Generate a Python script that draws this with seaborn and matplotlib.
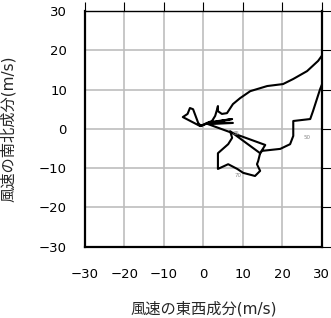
import matplotlib
matplotlib.use("Agg")
import matplotlib.pyplot as plt
import numpy as np
import pandas as pd
import seaborn as sns

# Hodograph: east-west (u) and north-south (v) wind components (m/s)
u = [30.9, 29.1, 26.3, 22.8, 20.2, 16.2, 11.9, 9.3, 7.5, 6.0, 4.7, 3.7, 3.7, 3.5, 3.0, 2.2, 0.9, -0.8,
     -5.2, -4.0, -3.4, -2.6, -1.3, -0.6,
     1.7, 7.3, 2.7, 7.5, 1.2,
     15.7, 14.4,
     6.8, 7.3, 6.3, 3.7, 3.7, 6.3, 8.6, 10.1, 13.1, 14.4, 13.6, 13.9, 14.4, 14.9, 19.5, 22.0, 22.8,
     22.8, 27.1, 27.8, 29.6, 30.9]
v = [19.8, 17.3, 14.7, 12.7, 11.4, 10.9, 9.6, 7.8, 6.3, 4.0, 3.8, 4.5, 5.8, 5.0, 3.3, 2.0, 1.5, 0.7,
     3.0, 3.8, 5.3, 5.0, 1.5, 0.7,
     1.7, 2.5, 1.7, 1.5, 1.2,
     -4.1, -6.2,
     -0.6, -2.3, -3.9, -6.2, -10.2, -9.0, -10.2, -11.2, -12.0, -10.7, -9.0, -8.2, -6.2, -5.6, -5.1, -3.9, -1.8,
     2.0, 2.5, 4.5, 10.1, 13.4]

label_u = [8.3, 26.3, 8.8]
label_v = [-1.1, -2.3, -12.0]
label_text = ["85", "50", "70"]

ticks = [-30, -20, -10, 0, 10, 20, 30]
tick_labels = ["\u221230", "\u221220", "\u221210", "0", "10", "20", "30"]
xlabel = "風速の東西成分(m/s)"
ylabel = "風速の南北成分(m/s)"

df = pd.DataFrame({"u": u, "v": v, "order": np.arange(len(u))})

sns.set_style("white")
plt.rcParams["font.family"] = ["DejaVu Sans", "Noto Sans CJK JP"]

fig = plt.figure(figsize=(3.31, 3.18), dpi=100)
ax = fig.add_axes([0.2568, 0.2242, 0.7150, 0.7412])

sns.lineplot(data=df, x="u", y="v", sort=False, estimator=None,
             color="black", lw=1.5, ax=ax, legend=False)

for lu, lv, lt in zip(label_u, label_v, label_text):
    ax.text(lu, lv, lt, fontsize=4, color="#888888", ha="center", va="center")

ax.set_xlim(-30, 30)
ax.set_ylim(-30, 30)
ax.set_xticks(ticks)
ax.set_xticklabels(tick_labels)
ax.set_yticks(ticks)
ax.set_yticklabels(tick_labels)
ax.grid(True, color="#bdbdbd", lw=1.2)
ax.set_axisbelow(True)

ax.tick_params(axis="both", direction="out", length=6.5, width=0.8, color="black",
               top=True, right=True, labelsize=9.5, labelcolor="black")
ax.tick_params(axis="x", pad=9.0)
ax.tick_params(axis="y", pad=6.5)

for side in ["left", "right", "bottom"]:
    ax.spines[side].set_linewidth(1.6)
    ax.spines[side].set_color("black")
ax.spines["top"].set_linewidth(1.0)
ax.spines["top"].set_color("black")

ax.set_xlabel(xlabel, fontsize=11, va="center")
ax.set_ylabel(ylabel, fontsize=11, va="center")
ax.xaxis.set_label_coords(0.5, -0.264)
ax.yaxis.set_label_coords(-0.324, 0.5)

fig.savefig("out.png", dpi=100)
